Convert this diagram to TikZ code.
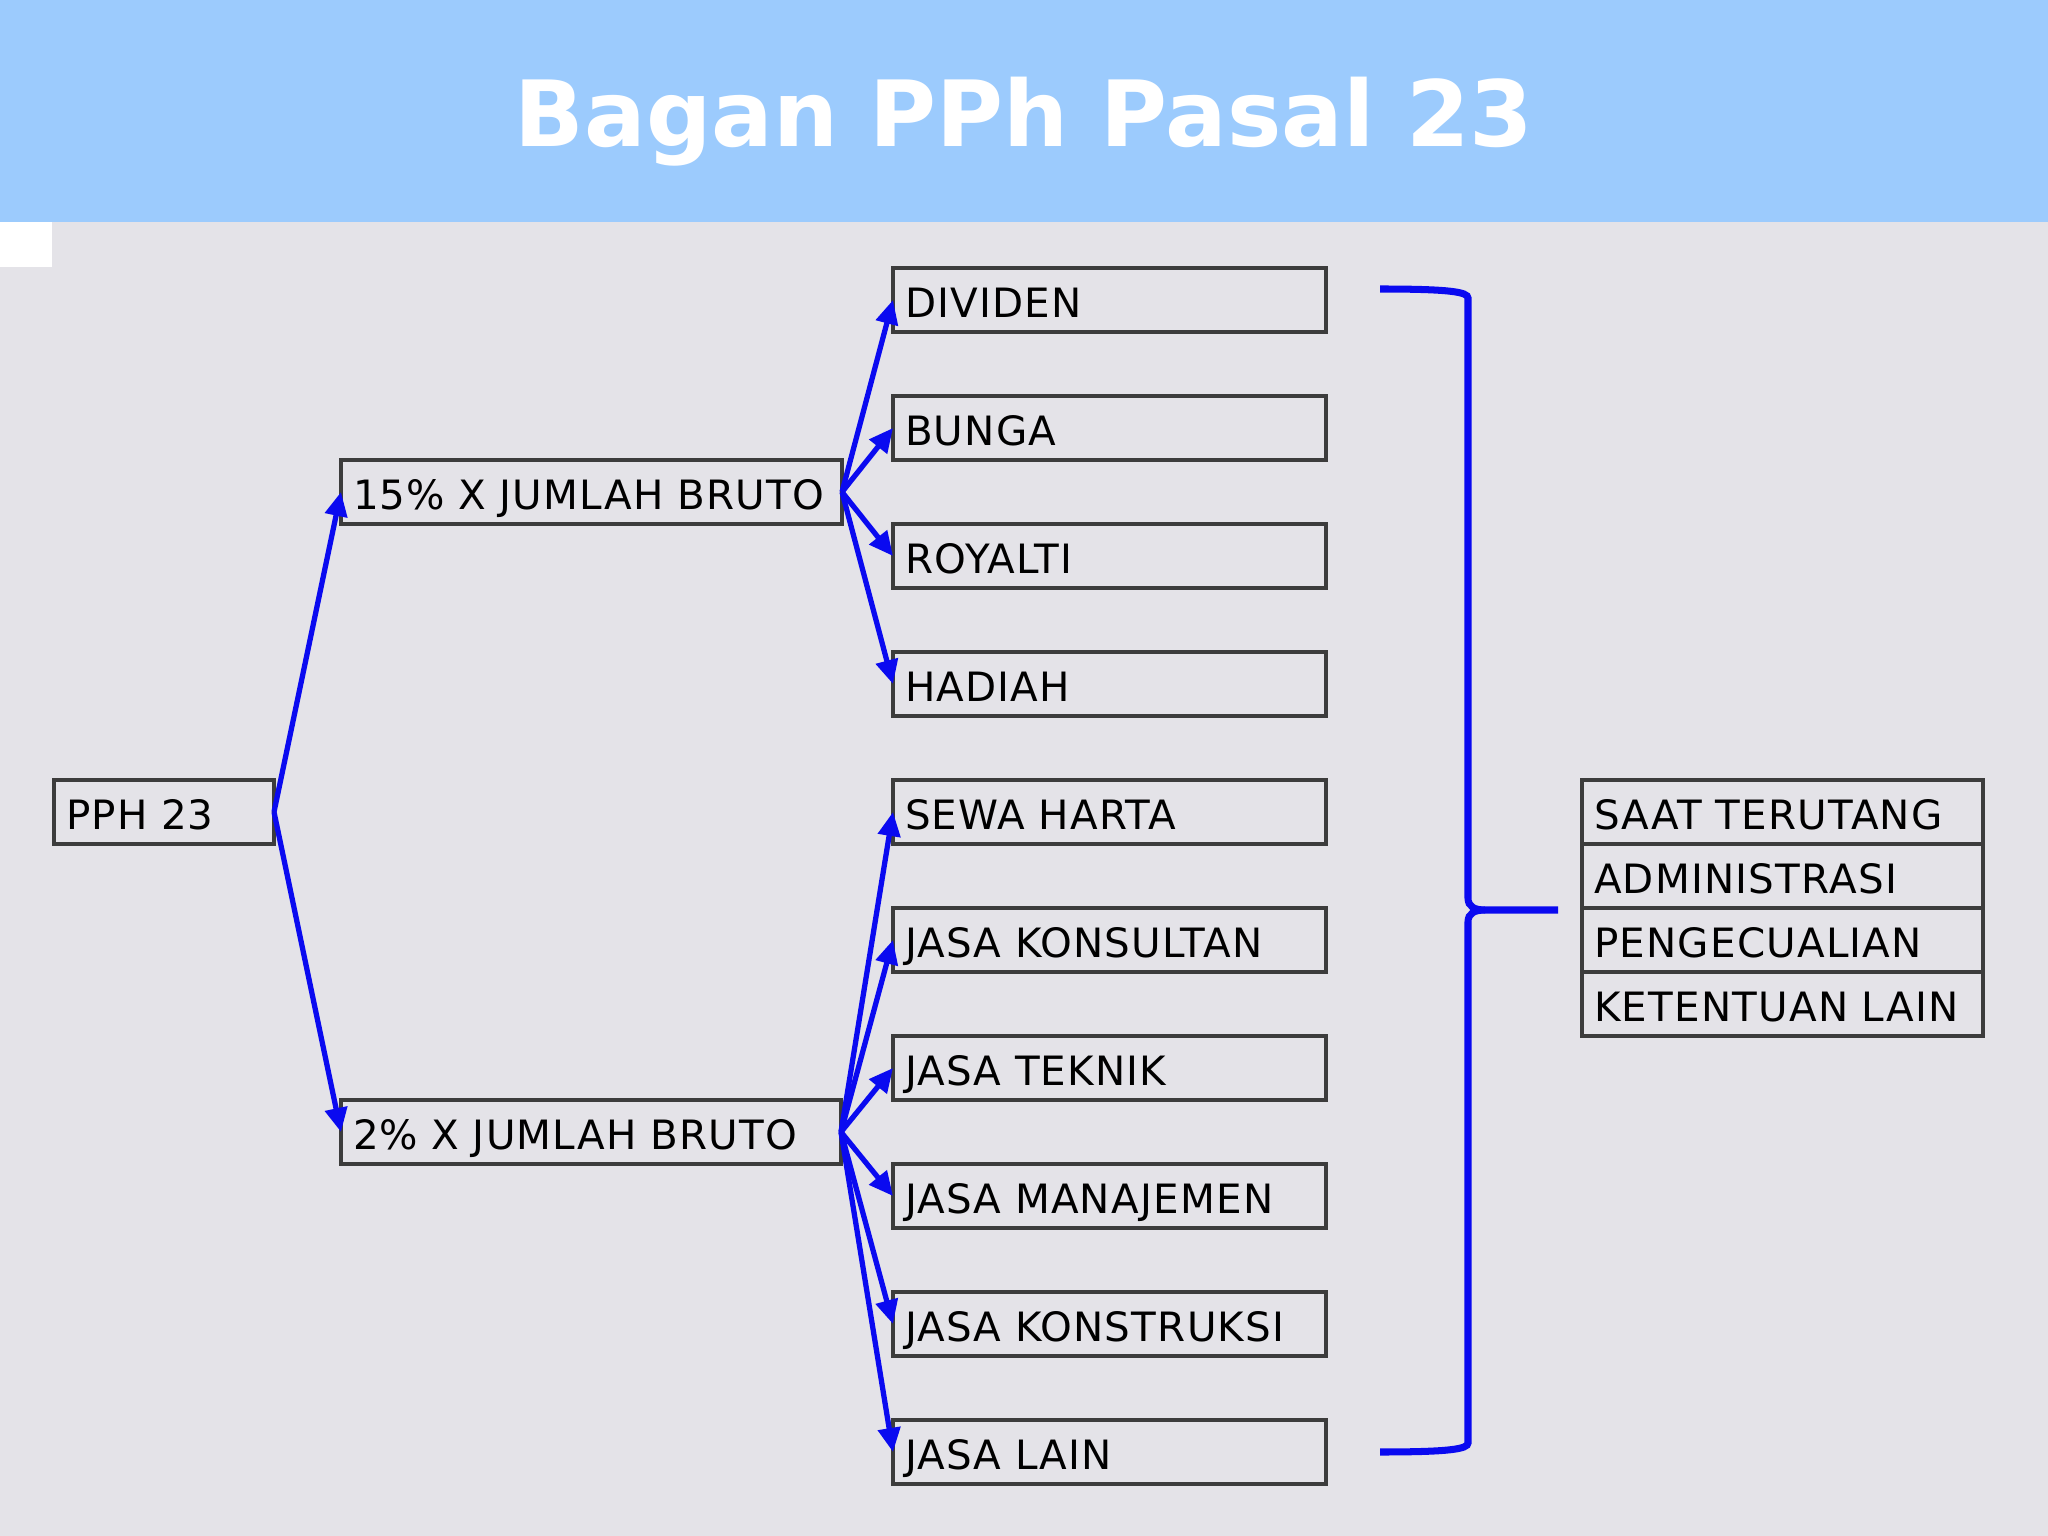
\documentclass[tikz,border=0pt]{standalone}
\usepackage{fontspec}
\setmainfont{DejaVu Sans}
\newfontfamily\boxfont[LetterSpace=3]{DejaVu Sans}
\usetikzlibrary{positioning, arrows.meta}

\definecolor{banner}{HTML}{9CCBFD}
\definecolor{slide}{HTML}{E4E3E8}
\definecolor{boxline}{HTML}{3C3C3C}
\definecolor{arrowblue}{HTML}{0A0AF0}

\begin{document}
\begin{tikzpicture}[
    box/.style={draw=boxline, line width=0.9pt, outer sep=0pt, inner xsep=1.2mm, inner ysep=0pt,
        minimum height=6.4mm, text height=3.45mm, text depth=0pt, text width=#1, align=left,
        font=\boxfont\fontsize{11.5}{12}\selectfont},
    box/.default=40.9mm,
    link/.style={draw=arrowblue, line width=1.5pt, -{Triangle[length=2.4mm,width=2.2mm]}},
    brace/.style={draw=arrowblue, line width=2pt},
    node distance=6.4mm
]

% Background and title band
\fill[slide] (0,0) rectangle (20.48,-15.36);
\fill[banner] (0,0) rectangle (20.48,-2.22);
\fill[white] (0,-2.22) rectangle (0.52,-2.67);
\node[font=\fontsize{26}{30}\selectfont\bfseries, text=white, anchor=base] (title) at (10.24,-1.47) {Bagan PPh Pasal 23};

% Root and the two rates
\node[box=19.6mm] (pph) at (1.64,-8.12) {PPH 23};
\node[box=47.7mm] (h15) at (5.915,-4.92) {15\% X JUMLAH BRUTO};
\node[box=47.6mm] (h2) at (5.91,-11.32) {2\% X JUMLAH BRUTO};

% Objects of 15%
\node[box] (dividen) at (11.095,-3.00) {DIVIDEN};
\node[box, below=of dividen] (bunga) {BUNGA};
\node[box, below=of bunga] (royalti) {ROYALTI};
\node[box, below=of royalti] (hadiah) {HADIAH};

% Objects of 2%
\node[box, below=of hadiah] (sewa) {SEWA HARTA};
\node[box, below=of sewa] (konsultan) {JASA KONSULTAN};
\node[box, below=of konsultan] (teknik) {JASA TEKNIK};
\node[box, below=of teknik] (manajemen) {JASA MANAJEMEN};
\node[box, below=of manajemen] (konstruksi) {JASA KONSTRUKSI};
\node[box, below=of konstruksi] (lain) {JASA LAIN};

% Common rules
\node[box=37.7mm] (saat) at (17.825,-8.12) {SAAT TERUTANG};
\node[box=37.7mm, below=0pt of saat] (admin) {ADMINISTRASI};
\node[box=37.7mm, below=0pt of admin] (pengecualian) {PENGECUALIAN};
\node[box=37.7mm, below=0pt of pengecualian] (ketentuan) {KETENTUAN LAIN};

% Arrows
\draw[link] (pph.east) -- (h15.west);
\draw[link] (pph.east) -- (h2.west);
\foreach \t in {dividen,bunga,royalti,hadiah}
    \draw[link] (h15.east) -- (\t.west);
\foreach \t in {sewa,konsultan,teknik,manajemen,konstruksi,lain}
    \draw[link] (h2.east) -- (\t.west);

% Brace
\coordinate (tip) at (15.58,-9.10);
\draw[brace] (13.80,-2.89) .. controls (14.50,-2.89) and (14.68,-2.92) .. (14.68,-2.98)
    -- (14.68,-8.98) .. controls (14.68,-9.07) and (14.75,-9.10) .. (14.85,-9.10) -- (tip);
\draw[brace] (14.85,-9.10) .. controls (14.75,-9.10) and (14.68,-9.13) .. (14.68,-9.22)
    -- (14.68,-14.43) .. controls (14.68,-14.49) and (14.50,-14.52) .. (13.80,-14.52);

\end{tikzpicture}
\end{document}
